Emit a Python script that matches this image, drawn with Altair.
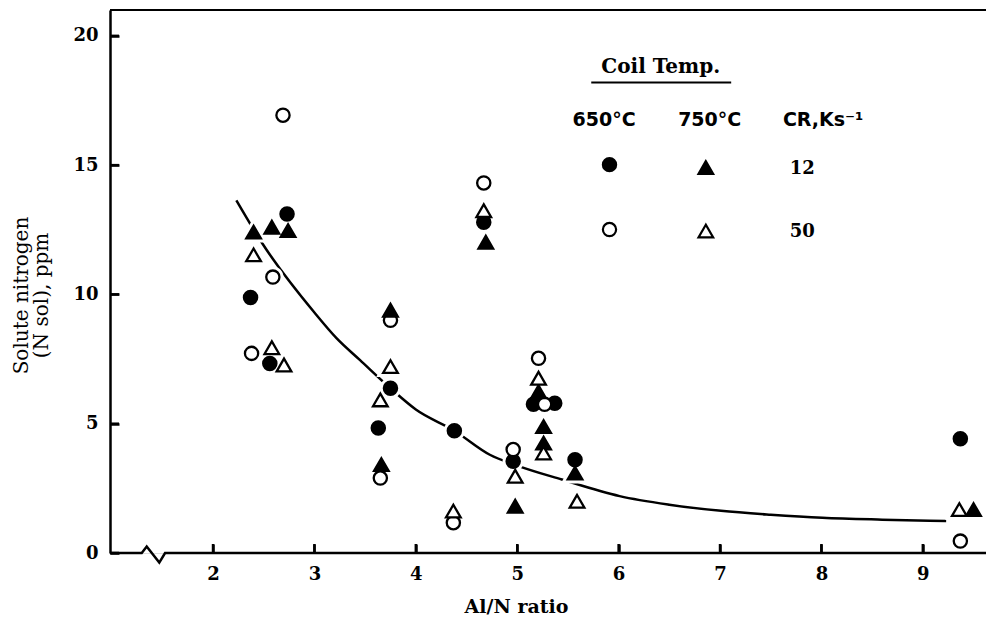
import altair as alt
import pandas as pd

# ---------------- data ----------------
# 650 C, CR 12 (filled circles)
fc_x = [2.37, 2.56, 2.73, 3.63, 3.75, 4.38, 4.67, 4.96, 5.16, 5.37, 5.57, 9.37]
fc_y = [9.88, 7.33, 13.11, 4.83, 6.37, 4.73, 12.79, 3.55, 5.75, 5.79, 3.61, 4.42]
# 650 C, CR 50 (open circles)
oc_x = [2.69, 2.38, 2.59, 3.75, 3.65, 4.37, 4.67, 4.96, 5.21, 5.27, 9.37]
oc_y = [16.93, 7.72, 10.67, 9.00, 2.90, 1.17, 14.31, 4.00, 7.53, 5.75, 0.46]
# 750 C, CR 12 (filled triangles)
ft_x = [2.40, 2.58, 2.74, 3.75, 3.66, 4.69, 4.98, 5.21, 5.26, 5.26, 5.57, 9.50]
ft_y = [12.41, 12.60, 12.47, 9.39, 3.42, 12.02, 1.81, 6.24, 4.89, 4.25, 3.09, 1.68]
# 750 C, CR 50 (open triangles)
ot_x = [2.40, 2.58, 2.70, 3.75, 3.65, 4.37, 4.67, 4.98, 5.21, 5.26, 5.59, 9.36]
ot_y = [11.53, 7.94, 7.27, 7.21, 5.92, 1.62, 13.24, 2.97, 6.76, 3.87, 2.00, 1.68]

# fitted curve (hand drawn in the original)
curve_x = [2.23, 2.49, 3.0, 3.22, 3.45, 3.75, 4.0, 4.38, 4.73, 5.0, 5.44, 6.01, 6.5, 7.01, 7.5, 8.01, 8.6, 9.23]
curve_y = [13.64, 11.95, 9.3, 8.30, 7.46, 6.37, 5.55, 4.73, 3.80, 3.38, 2.84, 2.20, 1.87, 1.63, 1.48, 1.36, 1.29, 1.24]

x_ticks = [2, 3, 4, 5, 6, 7, 8, 9]
y_ticks = [0, 5, 10, 15, 20]

# axis break (zig-zag) on the x baseline
break_x = [0.984, 1.297, 1.346, 1.470, 1.527, 9.623]
break_y = [0.0, 0.0, 0.25, -0.37, 0.0, 0.0]

# legend content
leg_marker_x = [5.91, 6.86, 5.91, 6.86]
leg_marker_y = [15.02, 14.91, 12.51, 12.45]
leg_marker_temp = ["650", "750", "650", "750"]
leg_marker_cr = ["12", "12", "50", "50"]
leg_head_text = ["650°C", "750°C"]
leg_head_x = [5.856, 6.898]
leg_head_y = 16.75
leg_cr_label = "CR,Ks⁻¹"
leg_cr_x = 7.62
leg_row_text = ["12", "50"]
leg_row_x = [7.81, 7.81]
leg_row_y = [14.84, 12.41]
leg_title = "Coil Temp."
leg_title_xy = (6.415, 18.8)
leg_underline = (5.73, 7.11, 18.2)

# ---------------- layout ----------------
X_DOMAIN = [0.984, 9.623]
Y_DOMAIN = [0, 21]
W, H = 876, 543
PAD_L, PAD_T = 110, 10
px_x = W / (X_DOMAIN[1] - X_DOMAIN[0])
px_y = H / (Y_DOMAIN[1] - Y_DOMAIN[0])
TICK_PX = 9

SERIF = "DejaVu Serif"
SANS = "DejaVu Sans"

rows = []
for xs_, ys_, t, c in [(fc_x, fc_y, "650", "12"), (oc_x, oc_y, "650", "50"),
                       (ft_x, ft_y, "750", "12"), (ot_x, ot_y, "750", "50")]:
    for a, b in zip(xs_, ys_):
        rows.append({"x": a, "y": b, "temp": t, "cr": c})
pts = pd.DataFrame(rows)

xs = alt.Scale(domain=X_DOMAIN, nice=False, zero=False)
ys = alt.Scale(domain=Y_DOMAIN, nice=False, zero=False)

shape_enc = alt.Shape("temp:N", scale=alt.Scale(domain=["650", "750"], range=["circle", "triangle-up"]), legend=None)
size_enc = alt.Size("temp:N", scale=alt.Scale(domain=["650", "750"], range=[175, 215]), legend=None)
fill_enc = alt.Fill("cr:N", scale=alt.Scale(domain=["12", "50"], range=["black", "white"]), legend=None)

# inward ticks: a negative tick size given as an expression
inward = {"expr": str(-TICK_PX)}

x_axis = alt.Axis(values=x_ticks, format="d", ticks=True, tickSize=inward, tickWidth=2.5,
                  tickColor="black", domain=False, grid=False,
                  labelFont=SERIF, labelFontWeight="bold", labelFontSize=18, labelColor="black",
                  labelPadding=12 + TICK_PX, title="Al/N ratio", titleFont=SERIF, titleFontWeight="bold",
                  titleFontSize=19, titleColor="black", titleX=406, titleY=59,
                  titleBaseline="alphabetic", titleAlign="center", titleAnchor="start")
y_axis = alt.Axis(values=y_ticks, format="d", ticks=True, tickSize=inward, tickWidth=2.5,
                  tickColor="black", domain=True, domainColor="black",
                  domainWidth=2.5, grid=False, labelFont=SERIF, labelFontWeight="bold",
                  labelFontSize=18, labelColor="black", labelPadding=12 + TICK_PX,
                  title=["Solute nitrogen", "(N sol), ppm"], titleFont=SERIF,
                  titleFontWeight="normal", titleFontSize=20, titleColor="black",
                  titleAngle=-90, titleX=-99, titleY=285, titleBaseline="top",
                  titleAlign="center", titleLineHeight=20)

base = alt.Chart(pts)

points = base.mark_point(filled=False, stroke="black", strokeWidth=2.3, opacity=1).encode(
    x=alt.X("x:Q", scale=xs, axis=x_axis),
    y=alt.Y("y:Q", scale=ys, axis=y_axis),
    shape=shape_enc, size=size_enc, fill=fill_enc,
)
halo = base.mark_point(filled=True, fill="white", stroke="white", strokeWidth=8, opacity=1).encode(
    x="x:Q", y="y:Q", shape=shape_enc, size=size_enc,
)

curve = alt.Chart(pd.DataFrame({"x": curve_x, "y": curve_y})).mark_line(
    color="black", strokeWidth=2.5, interpolate="monotone").encode(x="x:Q", y="y:Q")

baseline = alt.Chart(pd.DataFrame({"x": break_x, "y": break_y, "o": range(len(break_x))})).mark_line(
    color="black", strokeWidth=2.5, clip=False, strokeJoin="miter").encode(x="x:Q", y="y:Q", order="o:Q")

# backup tick marks drawn as short two-point lines
tick_rows = []
for i, v in enumerate(x_ticks):
    tick_rows.append({"id": f"x{i}", "tx": float(v), "ty": 0.0})
    tick_rows.append({"id": f"x{i}", "tx": float(v), "ty": TICK_PX / px_y})
for i, v in enumerate(y_ticks):
    tick_rows.append({"id": f"y{i}", "tx": X_DOMAIN[0], "ty": float(v)})
    tick_rows.append({"id": f"y{i}", "tx": X_DOMAIN[0] + TICK_PX / px_x, "ty": float(v)})
ticks = alt.Chart(pd.DataFrame(tick_rows)).mark_line(color="black", strokeWidth=2.5).encode(
    x="tx:Q", y="ty:Q", detail="id:N")

top = alt.Chart(pd.DataFrame({"y": [Y_DOMAIN[1]]})).mark_rule(color="black", strokeWidth=2).encode(y="y:Q")

# legend
leg_pts = pd.DataFrame({"x": leg_marker_x, "y": leg_marker_y, "temp": leg_marker_temp, "cr": leg_marker_cr})
leg_markers = alt.Chart(leg_pts).mark_point(filled=False, stroke="black", strokeWidth=2.2, opacity=1).encode(
    x="x:Q", y="y:Q", shape=shape_enc,
    size=alt.Size("temp:N", scale=alt.Scale(domain=["650", "750"], range=[140, 160]), legend=None),
    fill=fill_enc)

head = alt.Chart(pd.DataFrame({"x": leg_head_x, "y": [leg_head_y] * 2, "t": leg_head_text})).mark_text(
    font=SANS, fontWeight="bold", fontSize=19, color="black", align="center", baseline="middle").encode(
    x="x:Q", y="y:Q", text="t:N")
crlab = alt.Chart(pd.DataFrame({"x": [leg_cr_x], "y": [leg_head_y], "t": [leg_cr_label]})).mark_text(
    font=SANS, fontWeight="bold", fontSize=19, color="black", align="left", baseline="middle").encode(
    x="x:Q", y="y:Q", text="t:N")
rowlab = alt.Chart(pd.DataFrame({"x": leg_row_x, "y": leg_row_y, "t": leg_row_text})).mark_text(
    font=SERIF, fontWeight="bold", fontSize=18, color="black", align="center", baseline="middle").encode(
    x="x:Q", y="y:Q", text="t:N")
ltitle = alt.Chart(pd.DataFrame({"x": [leg_title_xy[0]], "y": [leg_title_xy[1]], "t": [leg_title]})).mark_text(
    font=SERIF, fontWeight="bold", fontSize=20, color="black", align="center", baseline="middle").encode(
    x="x:Q", y="y:Q", text="t:N")
uline = alt.Chart(pd.DataFrame({"x": [leg_underline[0]], "x2": [leg_underline[1]], "y": [leg_underline[2]]})).mark_rule(
    color="black", strokeWidth=2).encode(x="x:Q", x2="x2:Q", y="y:Q")

chart = alt.layer(
    curve, halo, points, baseline, top,
    leg_markers, head, crlab, rowlab, ltitle, uline, ticks
).properties(
    width=W, height=H,
    autosize=alt.AutoSizeParams(type="none"),
    padding={"left": PAD_L, "top": PAD_T, "right": 0, "bottom": 618 - PAD_T - H},
).configure_view(stroke=None).configure(background="white")

chart.save("out.html", embed_options={"renderer": "svg", "actions": False})
